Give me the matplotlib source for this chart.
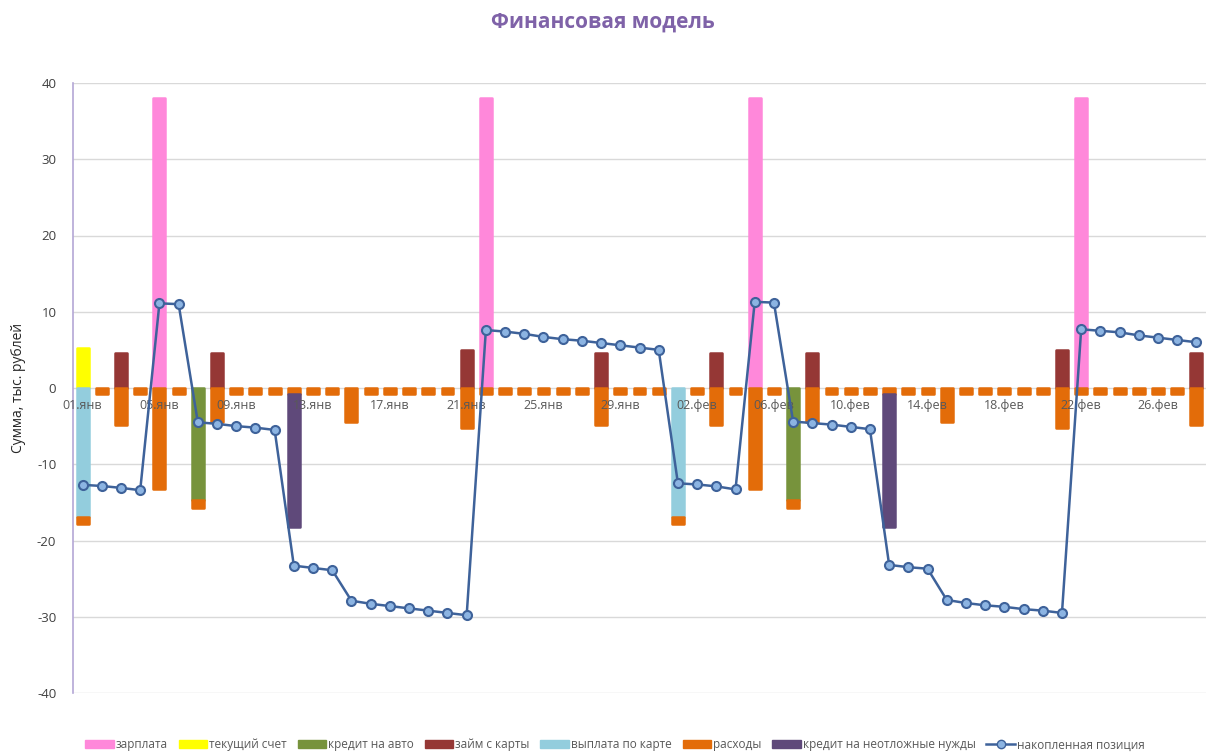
import numpy as np
import matplotlib
matplotlib.use("Agg")
import matplotlib.pyplot as plt
from matplotlib.lines import Line2D
from matplotlib.patches import Patch

plt.rcParams['font.family'] = ['Open Sans', 'DejaVu Sans']
plt.rcParams['axes.unicode_minus'] = False

# 59 days: 01.янв .. 28.фев
n_days = 59
tick_pos = [0, 4, 8, 12, 16, 20, 24, 28, 32, 36, 40, 44, 48, 52, 56]
tick_labels = ['01.янв', '05.янв', '09.янв', '13.янв', '17.янв', '21.янв', '25.янв',
               '29.янв', '02.фев', '06.фев', '10.фев', '14.фев', '18.фев', '22.фев',
               '26.фев']

# bar series, {day index: value}
salary = {4: 38.0, 21: 38.0, 35: 38.0, 52: 38.0}
current_acc = {0: 5.3}
car_loan = {6: -14.7, 37: -14.7}
card_loan = {2: 4.6, 7: 4.6, 20: 5.0, 27: 4.6, 33: 4.6, 38: 4.6, 51: 5.0, 58: 4.6}
card_payment = {0: -16.9, 31: -16.9}
expenses_base = -0.8
expenses_big = {0: -1.0, 2: -4.8, 4: -13.3, 6: -1.0, 7: -4.5, 14: -4.4, 20: -5.2,
                27: -4.9, 31: -1.0, 33: -4.9, 35: -13.3, 37: -1.0, 38: -4.5,
                45: -4.4, 51: -5.2, 58: -4.9}
urgent_loan = {11: -17.4, 42: -17.4}

position = [-12.7, -12.85, -13.1, -13.4, 11.1, 11.0, -4.5, -4.7, -5.0, -5.2, -5.5,
            -23.3, -23.6, -23.9, -27.9, -28.3, -28.6, -28.9, -29.2, -29.5, -29.8,
            7.6, 7.4, 7.1, 6.7, 6.4, 6.2, 5.9, 5.6, 5.3, 5.0,
            -12.5, -12.65, -12.9, -13.3, 11.3, 11.2, -4.4, -4.6, -4.8, -5.1, -5.4,
            -23.2, -23.5, -23.7, -27.8, -28.2, -28.5, -28.7, -29.0, -29.2, -29.5,
            7.7, 7.5, 7.3, 6.9, 6.6, 6.3, 6.0]


def full(d, default=0.0):
    arr = np.full(n_days, default)
    for k, v in d.items():
        arr[k] = v
    return arr


series = [
    ('зарплата', full(salary), '#ff88da'),
    ('текущий счет', full(current_acc), '#ffff00'),
    ('кредит на авто', full(car_loan), '#77933c'),
    ('займ с карты', full(card_loan), '#953735'),
    ('выплата по карте', full(card_payment), '#93cddd'),
    ('расходы', full(expenses_big, expenses_base), '#e36c09'),
    ('кредит на неотложные нужды', full(urgent_loan), '#5f497a'),
]

fig = plt.figure(figsize=(12.06, 7.56), dpi=100)
ax = fig.add_axes([73 / 1206, 1 - 693 / 756, 1 - 73 / 1206, (693 - 83) / 756])

x = np.arange(n_days)
pos_bottom = np.zeros(n_days)
neg_bottom = np.zeros(n_days)
for name, vals, col in series:
    bottom = np.where(vals >= 0, pos_bottom, neg_bottom)
    nz = vals != 0
    ax.bar(x[nz], vals[nz], bottom=bottom[nz], width=0.62, color=col, edgecolor=col,
           linewidth=1.8, joinstyle='round', zorder=3)
    pos_bottom = pos_bottom + np.where(vals > 0, vals, 0)
    neg_bottom = neg_bottom + np.where(vals < 0, vals, 0)

ax.plot(x, position, color='#3e629a', linewidth=1.8, marker='o', markersize=6.5,
        markerfacecolor='#8cb4e2', markeredgecolor='#3e629a', markeredgewidth=1.5,
        zorder=5)

ax.set_xlim(-0.5, n_days - 0.5)
ax.set_ylim(-40, 40)
ax.set_yticks(range(-40, 41, 10))
ax.yaxis.grid(True, color='#d9d9d9', linewidth=1, zorder=0)
ax.set_axisbelow(True)

ax.spines['top'].set_visible(False)
ax.spines['right'].set_visible(False)
ax.spines['bottom'].set_position(('data', 0))
ax.spines['bottom'].set_visible(False)
ax.spines['left'].set_color('#b4a7d6')
ax.spines['left'].set_linewidth(1.2)

ax.set_xticks(tick_pos)
ax.set_xticklabels(tick_labels)
ax.tick_params(axis='x', length=0, labelsize=9, labelcolor='#595959', pad=8)
ax.tick_params(axis='y', length=0, labelsize=9.5, labelcolor='#404040', pad=12)
ax.xaxis.set_zorder(4)  # date labels sit on top of the bars

ax.set_ylabel('Сумма, тыс. рублей', fontsize=10, color='#262626', labelpad=8)

fig.suptitle('Финансовая модель', fontsize=15, fontweight='bold', color='#7f62a8',
             y=0.985)

handles = [Patch(facecolor=c, edgecolor=c, label=n) for n, _, c in series]
handles.append(Line2D([0], [0], color='#3e629a', linewidth=1.8, marker='o',
                      markersize=6, markerfacecolor='#8cb4e2',
                      markeredgecolor='#3e629a', label='накопленная позиция'))
fig.legend(handles=handles, loc='lower center', bbox_to_anchor=(0.51, -0.008),
           ncol=8, frameon=False, fontsize=8.5, handlelength=2.4,
           handletextpad=0.2, columnspacing=0.9, labelcolor='#595959')

fig.savefig('out.png', dpi=100)
plt.close(fig)
